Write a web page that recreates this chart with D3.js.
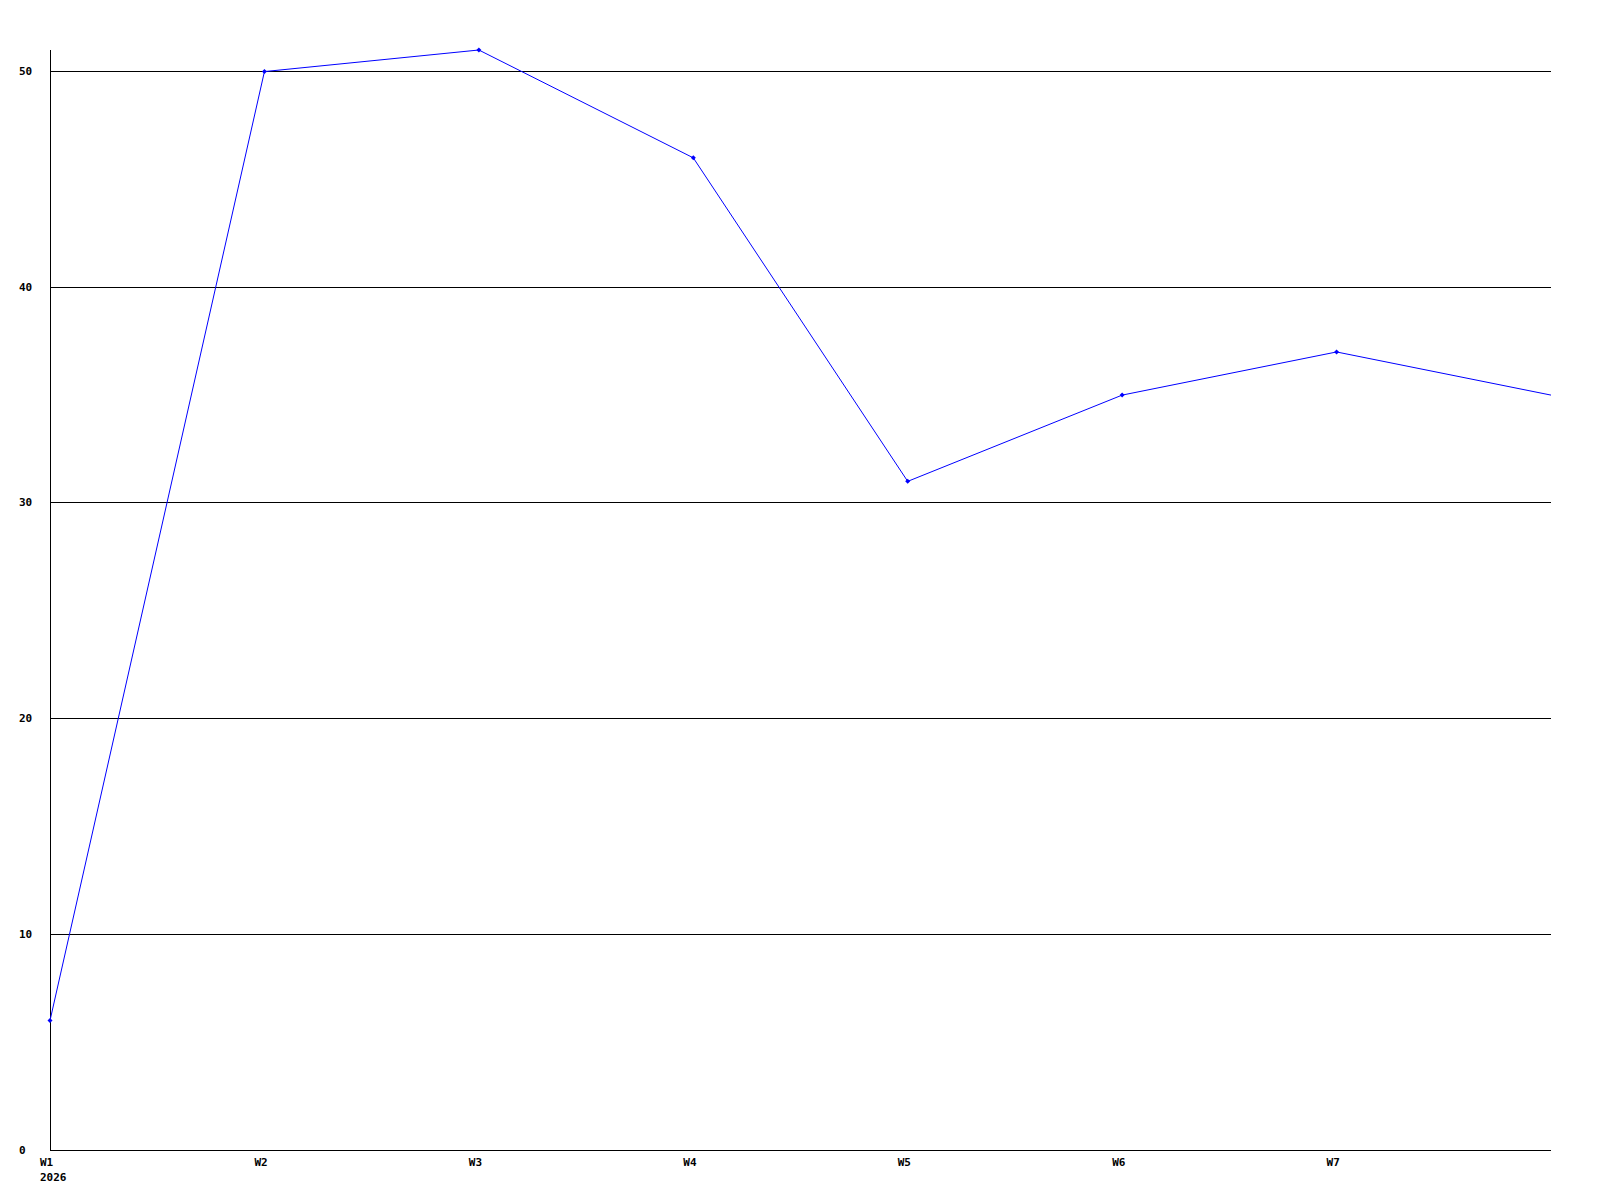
<!DOCTYPE html>
<html><head><meta charset="utf-8">
<script src="https://cdn.jsdelivr.net/npm/d3@7"></script>
<style>body{margin:0;background:#fff}svg{display:block}text{font-family:"DejaVu Sans Mono",monospace;font-weight:bold;font-size:11px;fill:#000}</style>
</head><body><svg id="c" width="1600" height="1200"></svg>
<script>
const categories = ["W1","W2","W3","W4","W5","W6","W7","W8"];
const xLabels = ["W1","W2","W3","W4","W5","W6","W7",""];
const yearLabel = "2026";
const values = [6,50,51,46,31,35,37,35];
const yTicks = [0,10,20,30,40,50];

const svg = d3.select("#c");
const x = d3.scalePoint().domain(categories).range([50,1551]);
const y = d3.scaleLinear().domain([0,51]).range([1150,50]);

// gridlines
svg.append("g").selectAll("line").data(yTicks.filter(d=>d>0)).join("line")
  .attr("x1",50).attr("x2",1551).attr("y1",d=>Math.floor(y(d))+0.5).attr("y2",d=>Math.floor(y(d))+0.5)
  .attr("stroke","#000").attr("stroke-width",1);
// axes
svg.append("line").attr("x1",50.5).attr("x2",50.5).attr("y1",50).attr("y2",1150).attr("stroke","#000");
svg.append("line").attr("x1",50).attr("x2",1551).attr("y1",1150.5).attr("y2",1150.5).attr("stroke","#000");
// y labels
svg.append("g").selectAll("text").data(yTicks).join("text")
  .attr("x",19).attr("y",d=>Math.floor(y(d))+4).text(d=>d);
// x labels
svg.append("g").selectAll("text").data(categories).join("text")
  .attr("x",d=>x(d)-10).attr("y",1166).text((d,i)=>xLabels[i]);
svg.append("text").attr("x",x(categories[0])-10).attr("y",1181).text(yearLabel);
// line
svg.append("path").datum(values)
  .attr("d",d3.line().x((d,i)=>x(categories[i])).y(d=>y(d)))
  .attr("fill","none").attr("stroke","#0000ff").attr("stroke-width",1);
svg.append("g").selectAll("path").data(values.slice(0,-1)).join("path")
  .attr("transform",(d,i)=>`translate(${x(categories[i])},${y(d)})`)
  .attr("d","M0,-2.5L2.5,0L0,2.5L-2.5,0Z").attr("fill","#0000ff");
</script></body></html>
